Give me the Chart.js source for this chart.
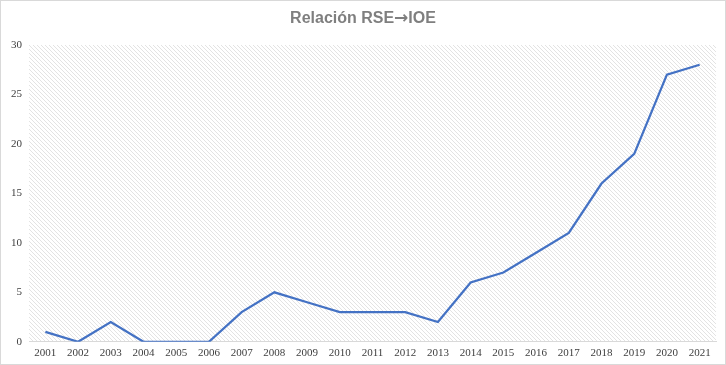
<!DOCTYPE html>
<html>
<head>
<meta charset="utf-8">
<script src="https://cdn.jsdelivr.net/npm/chart.js@4.4.1/dist/chart.umd.min.js"></script>
<style>
  html, body { margin: 0; padding: 0; background: #fff; }
</style>
</head>
<body>
<canvas id="grafico" width="726" height="365"></canvas>
<script>
// Datos
const anios = ["2001","2002","2003","2004","2005","2006","2007","2008","2009","2010","2011","2012","2013","2014","2015","2016","2017","2018","2019","2020","2021"];
const relaciones = [1, 0, 2, 0, 0, 0, 3, 5, 4, 3, 3, 3, 2, 6, 7, 9, 11, 16, 19, 27, 28];
const ticksY = [0, 5, 10, 15, 20, 25, 30];
const tituloPartes = ["Relación RSE", "→", "IOE"];

// Patron de rayas diagonales para el fondo del area
function crearPatron(ctx) {
  const c = document.createElement("canvas");
  c.width = 4; c.height = 4;
  const p = c.getContext("2d");
  p.strokeStyle = "#e3e3e3";
  p.lineWidth = 1;
  p.beginPath();
  p.moveTo(0, 0); p.lineTo(4, 4);
  p.moveTo(-1, 3); p.lineTo(1, 5);
  p.moveTo(3, -1); p.lineTo(5, 1);
  p.stroke();
  return ctx.createPattern(c, "repeat");
}

const fondoRayado = {
  id: "fondoRayado",
  beforeDraw(chart) {
    const { ctx, chartArea: a, width, height } = chart;
    ctx.save();
    ctx.fillStyle = crearPatron(ctx);
    ctx.fillRect(a.left, a.top, a.right - a.left, a.bottom - a.top);
    // marco exterior
    ctx.strokeStyle = "#d9d9d9";
    ctx.lineWidth = 1;
    ctx.strokeRect(0.5, 0.5, width - 1, height - 1);
    ctx.restore();
  }
};

// titulo dibujado a mano para poder usar otra fuente en la flecha
const titulo = {
  id: "titulo",
  afterDraw(chart) {
    const ctx = chart.ctx;
    const fuentes = ["bold 16px 'Liberation Sans'", "bold 17px 'DejaVu Sans'", "bold 16px 'Liberation Sans'"];
    ctx.save();
    ctx.fillStyle = "#7f7f7f";
    ctx.textBaseline = "middle";
    let anchos = tituloPartes.map((t, i) => { ctx.font = fuentes[i]; return ctx.measureText(t).width; });
    let total = anchos.reduce((s, w) => s + w, 0);
    let x = chart.width / 2 - total / 2;
    tituloPartes.forEach((t, i) => {
      ctx.font = fuentes[i];
      ctx.fillText(t, x, 19);
      x += anchos[i];
    });
    ctx.restore();
  }
};

new Chart(document.getElementById("grafico"), {
  type: "line",
  data: {
    labels: anios,
    datasets: [{
      label: "Relación RSE→IOE",
      data: relaciones,
      borderColor: "#4472C4",
      borderWidth: 2.25,
      pointRadius: 0,
      tension: 0,
      fill: false
    }]
  },
  options: {
    responsive: false,
    animation: false,
    layout: { padding: { left: 4, right: 10, top: 45, bottom: 0 } },
    plugins: {
      legend: { display: false },
      tooltip: { enabled: false },
      title: { display: false }
    },
    scales: {
      x: {
        offset: true,
        grid: { display: false, drawTicks: false },
        border: { display: true, color: "#d9d9d9" },
        ticks: {
          color: "#404040",
          font: { family: "Liberation Serif", size: 11 },
          maxRotation: 0,
          autoSkip: false,
          padding: 5
        }
      },
      y: {
        min: 0,
        max: 30,
        afterBuildTicks(axis) { axis.ticks = ticksY.map(v => ({ value: v })); },
        grid: { display: false, drawTicks: false },
        border: { display: false },
        ticks: {
          color: "#404040",
          font: { family: "Liberation Serif", size: 11 },
          padding: 7
        }
      }
    }
  },
  plugins: [fondoRayado, titulo]
});
</script>
</body>
</html>
